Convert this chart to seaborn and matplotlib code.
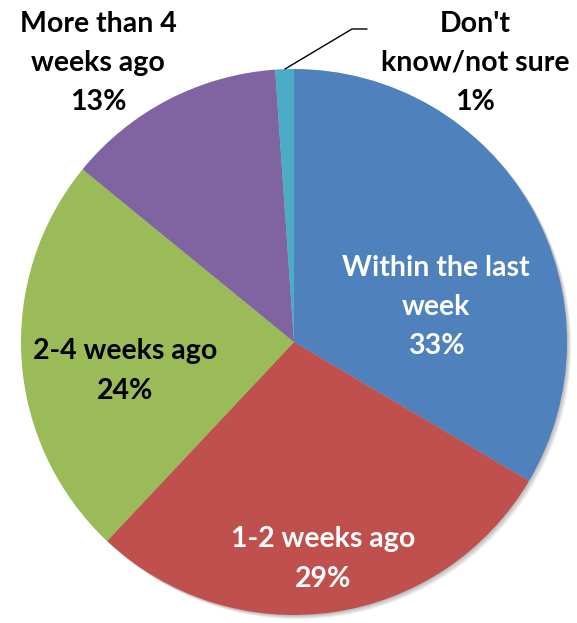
import matplotlib
matplotlib.use("Agg")
import matplotlib.pyplot as plt
from matplotlib.patches import Circle
import seaborn as sns

categories = ["Within the last\nweek", "1-2 weeks ago", "2-4 weeks ago",
              "More than 4\nweeks ago", "Don't\nknow/not sure"]
values = [33.5, 28.5, 23.9, 13.0, 1.1]
pct_labels = ["33%", "29%", "24%", "13%", "1%"]
colors = ["#4F81BD", "#C0504D", "#9BBB59", "#8064A2", "#4BACC6"]
text_colors = ["white", "white", "black", "black", "black"]

sns.set_style("white")
plt.rcParams['font.family'] = ['Lato', 'DejaVu Sans']

W, H = 577, 623
fig = plt.figure(figsize=(W / 100, H / 100), dpi=100)
ax = fig.add_axes([0, 0, 1, 1])

cx, cy, R = 294, 342, 273


def px(x, y):
    return (x - cx) / R, (cy - y) / R


# soft shadow at the lower right edge
for i in range(8):
    off = 0.002 * (i + 1)
    ax.add_patch(Circle((off, -off), 1.0, color="black", alpha=0.035, lw=0, zorder=0))

ax.pie(values, colors=colors, startangle=90, counterclock=False, radius=1,
       wedgeprops=dict(linewidth=0, zorder=2))

label_pos = [(436, 307), (323, 559), (125, 371), (98, 63), (475, 63)]
for cat, pct, (x, y), tc in zip(categories, pct_labels, label_pos, text_colors):
    dx, dy = px(x, y)
    ax.text(dx, dy, f"{cat}\n{pct}", ha="center", va="center", color=tc,
            fontsize=20.5, fontweight="bold", linespacing=1.62, zorder=5)

# leader line for the small slice
p1 = px(285, 69)
p2 = px(352, 29)
p3 = px(367, 29)
ax.plot([p1[0], p2[0], p3[0]], [p1[1], p2[1], p3[1]], color="black", lw=1, zorder=5)

ax.set_xlim((0 - cx) / R, (W - cx) / R)
ax.set_ylim((cy - H) / R, cy / R)
ax.axis("off")

fig.savefig("out.png", dpi=100)
